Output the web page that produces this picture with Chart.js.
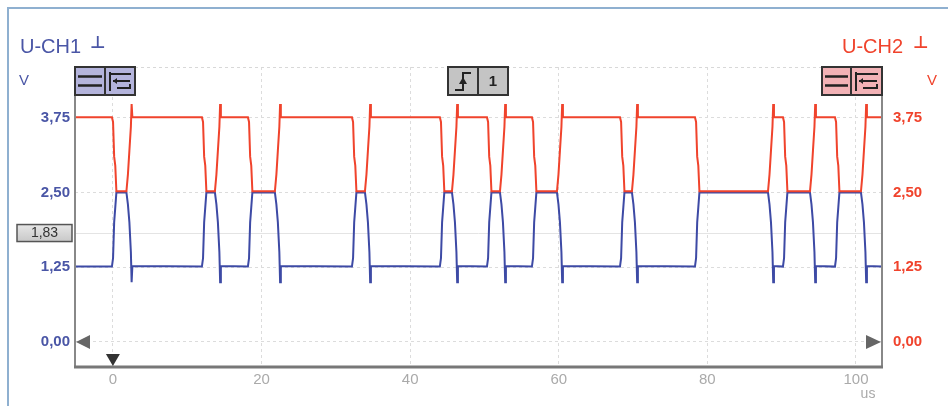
<!DOCTYPE html>
<html>
<head>
<meta charset="utf-8">
<script src="https://cdn.jsdelivr.net/npm/chart.js@4.4.1/dist/chart.umd.min.js"></script>
<style>
  html, body { margin: 0; padding: 0; background: #fff; overflow: hidden; }
  .chart-container { width: 948px; height: 406px; position: relative; }
</style>
</head>
<body>
<div class="chart-container"><canvas id="ctx" width="948" height="406"></canvas></div>
<script>
// time in µs, voltage in V
const recessiveStart = [-0.13, 11.98, 18.17, 32.17, 44.0, 50.34, 56.39, 68.24, 78.33, 90.17, 97.17];
const recessiveEnd = [1.82, 13.73, 21.8, 33.92, 45.63, 52.09, 59.76, 69.85, 88.16, 93.81, 100.67];
const timeRange = [-5.1, 103.5];
const dominantCH1 = 1.26;
const dominantCH2 = 3.76;
// edge shapes: [offset in µs, volts]
const fallCH1 = [[0, 1.26], [0.15, 1.4], [0.3, 2.0], [0.45, 2.25], [0.6, 2.5]];
const fallCH2 = [[0, 3.76], [0.15, 3.68], [0.3, 3.1], [0.45, 2.95], [0.6, 2.52]];
const riseCH1 = [[0, 2.5], [0.2, 2.3], [0.4, 2.0], [0.6, 1.5], [0.7, 1.0], [0.8, 1.27]];
const riseCH2 = [[0, 2.52], [0.2, 2.8], [0.4, 3.2], [0.6, 3.6], [0.7, 3.98], [0.8, 3.76]];
const voltTicks = [0, 1.25, 2.5, 3.75];
const timeTicks = [0, 20, 40, 60, 80, 100];
const cursorLevel = 1.83;

const BLUE = '#3d4aa5';
const RED = '#f0432c';
const FONT = '"Liberation Sans", Arial, sans-serif';

function buildTrace(fall, rise, dominant) {
  const pts = [{ x: timeRange[0], y: dominant }];
  recessiveStart.forEach((t0, i) => {
    fall.forEach(([dt, v]) => pts.push({ x: t0 + dt, y: v }));
    rise.forEach(([dt, v]) => pts.push({ x: recessiveEnd[i] + dt, y: v }));
  });
  pts.push({ x: timeRange[1], y: dominant });
  return pts;
}

const fmt = (v) => v.toFixed(2).replace('.', ',');

function drawButton(c, x, y, w, h, split, fill) {
  c.save();
  c.fillStyle = fill;
  c.strokeStyle = '#333';
  c.lineWidth = 2;
  c.beginPath();
  c.rect(x, y, w, h);
  c.fill();
  c.stroke();
  c.beginPath();
  c.moveTo(split, y);
  c.lineTo(split, y + h);
  c.stroke();
  c.restore();
}

function drawMenuIcons(c, x, split, right) {
  c.save();
  c.strokeStyle = '#222';
  c.lineWidth = 2.5;
  c.beginPath();
  c.moveTo(x + 3, 76.5); c.lineTo(split - 3, 76.5);
  c.moveTo(x + 3, 85.5); c.lineTo(split - 3, 85.5);
  c.stroke();
  c.lineWidth = 2;
  c.beginPath();
  c.moveTo(split + 5, 72); c.lineTo(split + 5, 91);
  c.moveTo(split + 5, 74); c.lineTo(right - 4, 74);
  c.moveTo(right - 5, 81); c.lineTo(split + 8, 81);
  c.moveTo(split + 12, 88); c.lineTo(right - 5, 88); c.lineTo(right - 5, 84);
  c.stroke();
  c.beginPath();
  c.moveTo(split + 8, 81); c.lineTo(split + 12, 78); c.lineTo(split + 12, 84);
  c.closePath();
  c.fillStyle = '#222';
  c.fill();
  c.restore();
}

const decorations = {
  id: 'decorations',
  beforeDatasetsDraw(chart) {
    const c = chart.ctx;
    const a = chart.chartArea;
    const y = chart.scales.y;
    c.save();
    // outer frame
    c.strokeStyle = '#8fb0d0';
    c.lineWidth = 2;
    c.beginPath();
    c.moveTo(8, 406); c.lineTo(8, 8); c.lineTo(948, 8);
    c.stroke();
    // dashed top edge
    c.strokeStyle = '#d8d8d8';
    c.lineWidth = 1;
    c.setLineDash([3, 3]);
    c.beginPath();
    c.moveTo(a.left, a.top + 0.5); c.lineTo(a.right, a.top + 0.5);
    c.stroke();
    // cursor level line
    c.setLineDash([]);
    c.strokeStyle = '#e4e4e4';
    const cy = Math.round(y.getPixelForValue(cursorLevel)) + 0.5;
    c.beginPath();
    c.moveTo(a.left, cy); c.lineTo(a.right, cy);
    c.stroke();
    c.restore();
  },
  afterDraw(chart) {
    const c = chart.ctx;
    const a = chart.chartArea;
    const x = chart.scales.x;
    const y = chart.scales.y;
    c.save();
    // axis frame
    c.strokeStyle = '#888';
    c.lineWidth = 2;
    c.beginPath();
    c.moveTo(a.left, a.top); c.lineTo(a.left, a.bottom);
    c.moveTo(a.right, a.top); c.lineTo(a.right, a.bottom);
    c.stroke();
    c.strokeStyle = '#777';
    c.lineWidth = 3;
    c.beginPath();
    c.moveTo(a.left - 1, a.bottom); c.lineTo(a.right + 1, a.bottom);
    c.stroke();

    // buttons
    drawButton(c, 75, 67, 60, 28, 105, '#b4b4dc');
    drawMenuIcons(c, 75, 105, 135);
    drawButton(c, 822, 67, 60, 28, 851, '#f2b2b6');
    drawMenuIcons(c, 822, 851, 882);
    drawButton(c, 448, 67, 60, 28, 478, '#c4c4c4');
    c.strokeStyle = '#222';
    c.lineWidth = 2;
    c.beginPath();
    c.moveTo(455, 90); c.lineTo(463, 90); c.lineTo(463, 73); c.lineTo(471, 73);
    c.stroke();
    c.beginPath();
    c.moveTo(463, 77); c.lineTo(459, 84); c.lineTo(467, 84);
    c.closePath();
    c.fillStyle = '#222';
    c.fill();
    c.font = 'bold 15px ' + FONT;
    c.textAlign = 'center';
    c.textBaseline = 'middle';
    c.fillText('1', 493, 82);

    // zero markers and trigger marker
    const y0 = y.getPixelForValue(0);
    c.fillStyle = '#666';
    c.beginPath();
    c.moveTo(76, y0); c.lineTo(90, y0 - 7); c.lineTo(90, y0 + 7);
    c.closePath(); c.fill();
    c.beginPath();
    c.moveTo(881, y0); c.lineTo(866, y0 - 7); c.lineTo(866, y0 + 7);
    c.closePath(); c.fill();
    const tx = x.getPixelForValue(0);
    c.fillStyle = '#333';
    c.beginPath();
    c.moveTo(tx - 7, 354); c.lineTo(tx + 7, 354); c.lineTo(tx, 366);
    c.closePath(); c.fill();

    // cursor level box
    const cy = y.getPixelForValue(cursorLevel);
    const g = c.createLinearGradient(0, cy - 8, 0, cy + 9);
    g.addColorStop(0, '#e6e6e6');
    g.addColorStop(1, '#c8c8c8');
    c.fillStyle = g;
    c.fillRect(17, cy - 8, 55, 17);
    c.strokeStyle = '#555';
    c.lineWidth = 1.5;
    c.strokeRect(17, cy - 8, 55, 17);
    c.fillStyle = '#333';
    c.font = '14px ' + FONT;
    c.textAlign = 'center';
    c.textBaseline = 'middle';
    c.fillText(fmt(cursorLevel), 44.5, cy + 1);

    // channel titles and units
    c.textAlign = 'left';
    c.textBaseline = 'alphabetic';
    c.font = '20px ' + FONT;
    c.fillStyle = '#4a56a6';
    c.fillText('U-CH1', 20, 53);
    c.fillStyle = RED;
    c.fillText('U-CH2', 842, 53);
    c.font = 'bold 17px "DejaVu Sans", sans-serif';
    c.fillStyle = '#4a56a6';
    c.fillText('\u22A5', 90, 48);
    c.fillStyle = RED;
    c.fillText('\u22A5', 913, 48);
    c.font = '15px ' + FONT;
    c.textAlign = 'center';
    c.fillStyle = '#4a56a6';
    c.fillText('V', 24, 85);
    c.fillStyle = RED;
    c.fillText('V', 932, 85);
    c.fillStyle = '#aaa';
    c.font = '14px ' + FONT;
    c.fillText('us', 868, 398);
    c.restore();
  }
};

new Chart(document.getElementById('ctx'), {
  type: 'line',
  data: {
    datasets: [
      {
        label: 'U-CH2',
        data: buildTrace(fallCH2, riseCH2, dominantCH2),
        borderColor: RED,
        borderWidth: 2,
        pointRadius: 0,
        tension: 0,
        order: 1,
      },
      {
        label: 'U-CH1',
        data: buildTrace(fallCH1, riseCH1, dominantCH1),
        borderColor: BLUE,
        borderWidth: 2,
        pointRadius: 0,
        tension: 0,
        order: 2,
      },
    ],
  },
  options: {
    responsive: false,
    animation: false,
    maintainAspectRatio: false,
    layout: { padding: { top: 67, left: 0, right: 0, bottom: 0 } },
    plugins: { legend: { display: false }, tooltip: { enabled: false } },
    scales: {
      x: {
        type: 'linear',
        min: timeRange[0],
        max: timeRange[1],
        afterBuildTicks: (s) => { s.ticks = timeTicks.map((v) => ({ value: v })); },
        afterFit: (s) => { s.height = 39; },
        grid: { color: '#dcdcdc', drawTicks: false },
        border: { display: false, dash: [3, 3] },
        ticks: { color: '#aaa', font: { size: 15, family: FONT }, padding: 4, maxRotation: 0 },
      },
      y: {
        position: 'left',
        min: -0.42,
        max: 4.6,
        afterBuildTicks: (s) => { s.ticks = voltTicks.map((v) => ({ value: v })); },
        afterFit: (s) => { s.width = 75; },
        grid: { color: '#dcdcdc', drawTicks: false },
        border: { display: false, dash: [3, 3] },
        ticks: { color: '#4a56a6', font: { size: 15, weight: 'bold', family: FONT }, padding: 5, callback: (v) => fmt(v) },
      },
      y2: {
        position: 'right',
        min: -0.42,
        max: 4.6,
        afterBuildTicks: (s) => { s.ticks = voltTicks.map((v) => ({ value: v })); },
        afterFit: (s) => { s.width = 66; },
        grid: { display: false },
        border: { display: false },
        ticks: { color: RED, font: { size: 15, weight: 'bold', family: FONT }, padding: 3, callback: (v) => fmt(v) },
      },
    },
  },
  plugins: [decorations],
});
</script>
</body>
</html>
